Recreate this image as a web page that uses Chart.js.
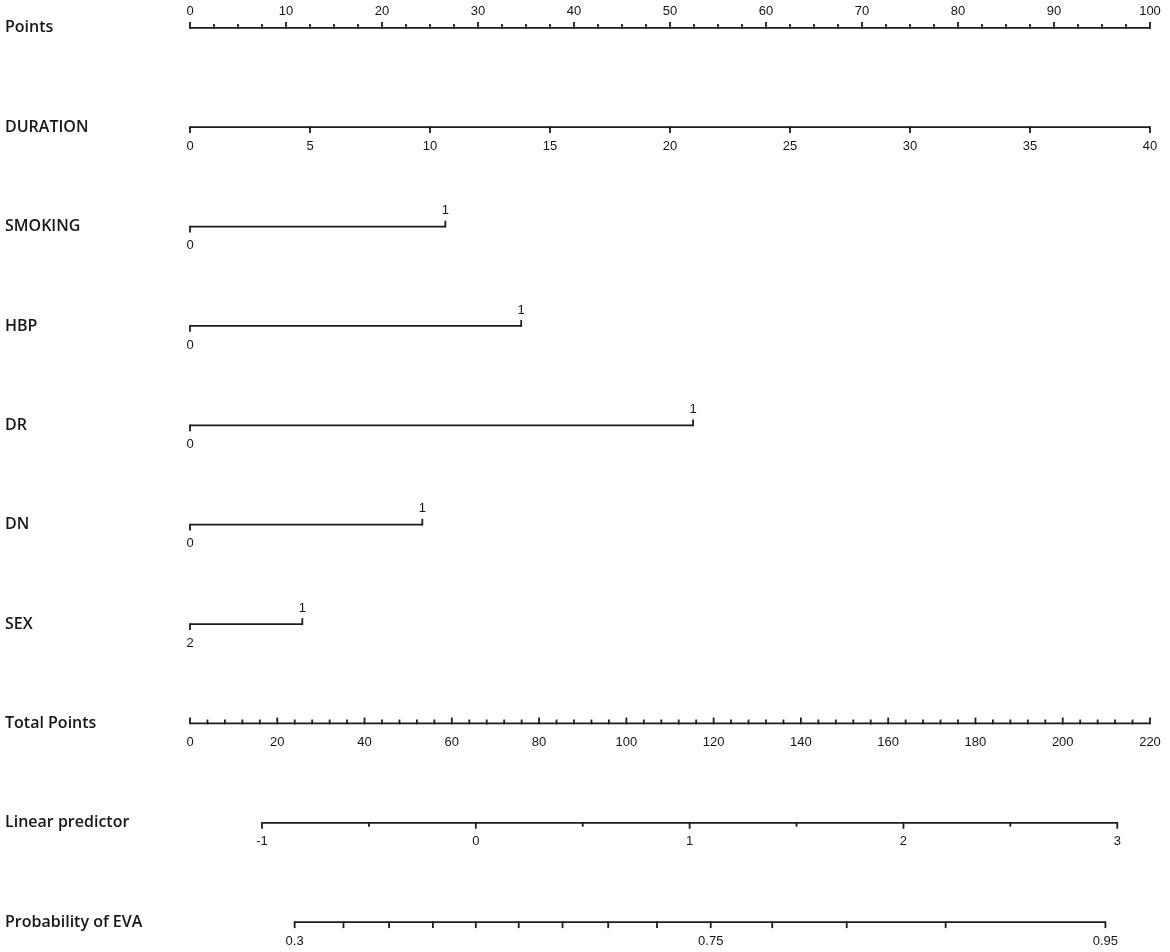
<!DOCTYPE html>
<html>
<head>
<meta charset="utf-8">
<title>Nomogram</title>
<script src="https://cdn.jsdelivr.net/npm/chart.js@4.4.1/dist/chart.umd.min.js"></script>
<style>
  body { margin: 0; background: #fff; }
</style>
</head>
<body>
<canvas id="nomogram" width="1170" height="952"></canvas>
<script>
const ROW_NAMES = ['Points', 'DURATION', 'SMOKING', 'HBP', 'DR', 'DN', 'SEX',
  'Total Points', 'Linear predictor', 'Probability of EVA'];

const POINTS_TICKS = [0, 10, 20, 30, 40, 50, 60, 70, 80, 90, 100];
const POINTS_MINOR_STEP = 2.5;

const DURATION_TICKS = [0, 5, 10, 15, 20, 25, 30, 35, 40];

// categorical predictors: level labels and the points given to each level
const SMOKING_LEVELS = ['0', '1'];
const SMOKING_POINTS = [0, 26.6];
const HBP_LEVELS = ['0', '1'];
const HBP_POINTS = [0, 34.5];
const DR_LEVELS = ['0', '1'];
const DR_POINTS = [0, 52.4];
const DN_LEVELS = ['0', '1'];
const DN_POINTS = [0, 24.2];
const SEX_LEVELS = ['2', '1'];
const SEX_POINTS = [0, 11.7];

const TOTAL_TICKS = [0, 20, 40, 60, 80, 100, 120, 140, 160, 180, 200, 220];
const TOTAL_MINOR_STEP = 4;

const LP_TICKS = [-1, 0, 1, 2, 3];
const LP_MINOR_TICKS = [-0.5, 0.5, 1.5, 2.5];
const LP_ANCHORS = [-1, 3];
const LP_TOTAL_AT_ANCHORS = [16.5, 212.5];

const PROB_TICKS = [0.3, 0.75, 0.95];
const PROB_MINOR_TICKS = [0.35, 0.4, 0.45, 0.5, 0.55, 0.6, 0.65, 0.7, 0.8, 0.85, 0.9];

// styles
const INK = '#1c1c1c';
const TEXT = '#161616';
const MAJOR_LEN = 5;
const MINOR_LEN = 3;
const GAP_ABOVE = 16;
const GAP_BELOW = 19;

// everything is placed on the "Points" scale (0..100)
const last = arr => arr[arr.length - 1];
const durationToPoints = v => v * 100 / last(DURATION_TICKS);
const totalToPoints = v => v * 100 / last(TOTAL_TICKS);
const lpToPoints = lp => totalToPoints(LP_TOTAL_AT_ANCHORS[0] +
  (lp - LP_ANCHORS[0]) * (LP_TOTAL_AT_ANCHORS[1] - LP_TOTAL_AT_ANCHORS[0]) / (LP_ANCHORS[1] - LP_ANCHORS[0]));
const probToPoints = p => lpToPoints(Math.log(p / (1 - p)));

function steps(first, lastVal, step) {
  const out = [];
  for (let v = first; v <= lastVal + 1e-9; v += step) out.push(+v.toFixed(4));
  return out;
}

function numericAxis(row, map, ticks, minor, opts) {
  const marks = [];
  ticks.forEach(v => marks.push({ at: map(v), len: MAJOR_LEN, dir: opts.tickDir, label: String(v), labelDir: opts.labelDir }));
  minor.filter(v => !ticks.includes(v)).forEach(v =>
    marks.push({ at: map(v), len: opts.minorLen || MINOR_LEN, dir: opts.tickDir, label: null }));
  return { row, from: map(ticks[0]), to: map(last(ticks)), marks };
}

function levelAxis(row, levels, points) {
  return {
    row, from: points[0], to: points[1],
    marks: [
      { at: points[0], len: MAJOR_LEN, dir: 1, label: levels[0], labelDir: 1 },
      { at: points[1], len: MAJOR_LEN, dir: -1, label: levels[1], labelDir: -1 }
    ]
  };
}

const AXES = [
  numericAxis(0, v => v, POINTS_TICKS, steps(0, 100, POINTS_MINOR_STEP), { tickDir: -1, labelDir: -1 }),
  numericAxis(1, durationToPoints, DURATION_TICKS, [], { tickDir: 1, labelDir: 1 }),
  levelAxis(2, SMOKING_LEVELS, SMOKING_POINTS),
  levelAxis(3, HBP_LEVELS, HBP_POINTS),
  levelAxis(4, DR_LEVELS, DR_POINTS),
  levelAxis(5, DN_LEVELS, DN_POINTS),
  levelAxis(6, SEX_LEVELS, SEX_POINTS),
  numericAxis(7, totalToPoints, TOTAL_TICKS, steps(0, last(TOTAL_TICKS), TOTAL_MINOR_STEP), { tickDir: -1, labelDir: 1 }),
  numericAxis(8, lpToPoints, LP_TICKS, LP_MINOR_TICKS, { tickDir: 1, labelDir: 1 }),
  numericAxis(9, probToPoints, PROB_TICKS, PROB_MINOR_TICKS, { tickDir: 1, labelDir: 1, minorLen: MAJOR_LEN })
];

// tick marks and tick labels of every row, placed through the chart scales
const nomogramTicks = {
  id: 'nomogramTicks',
  afterDatasetsDraw(chart) {
    const { ctx, scales: { x, y } } = chart;
    ctx.save();
    ctx.strokeStyle = INK;
    ctx.lineWidth = 1.8;
    ctx.lineCap = 'square';
    ctx.fillStyle = TEXT;
    ctx.font = "13px 'Liberation Sans', Arial, sans-serif";
    ctx.textAlign = 'center';
    ctx.textBaseline = 'middle';
    AXES.forEach(axis => {
      const py = y.getPixelForValue(axis.row);
      axis.marks.forEach(m => {
        const px = x.getPixelForValue(m.at);
        ctx.beginPath();
        ctx.moveTo(px, py);
        ctx.lineTo(px, py + m.dir * m.len);
        ctx.stroke();
        if (m.label !== null) {
          ctx.fillText(m.label, px, py + (m.labelDir < 0 ? -GAP_ABOVE : GAP_BELOW));
        }
      });
    });
    ctx.restore();
  }
};

const ctx = document.getElementById('nomogram');
new Chart(ctx, {
  type: 'scatter',
  data: {
    datasets: AXES.map(a => ({
      data: [{ x: a.from, y: a.row }, { x: a.to, y: a.row }],
      showLine: true,
      borderColor: INK,
      borderWidth: 1.8,
      pointRadius: 0
    }))
  },
  options: {
    responsive: false,
    animation: false,
    devicePixelRatio: 1,
    layout: { padding: { left: 5, right: 20, top: 0, bottom: 0 } },
    plugins: { legend: { display: false }, tooltip: { enabled: false } },
    scales: {
      x: { type: 'linear', min: 0, max: 100, display: false },
      y: {
        type: 'linear',
        reverse: true,
        min: -0.28,
        max: 9.3,
        afterBuildTicks: s => { s.ticks = ROW_NAMES.map((_, i) => ({ value: i })); },
        afterFit: s => { s.width = 185; s.paddingTop = 0; s.paddingBottom = 0; },
        ticks: {
          autoSkip: false,
          crossAlign: 'far',
          padding: 0,
          color: TEXT,
          font: { family: "'Open Sans', 'Noto Sans', sans-serif", size: 16, weight: '600' },
          callback: v => ROW_NAMES[v]
        },
        grid: { display: false },
        border: { display: false }
      }
    }
  },
  plugins: [nomogramTicks]
});
</script>
</body>
</html>
